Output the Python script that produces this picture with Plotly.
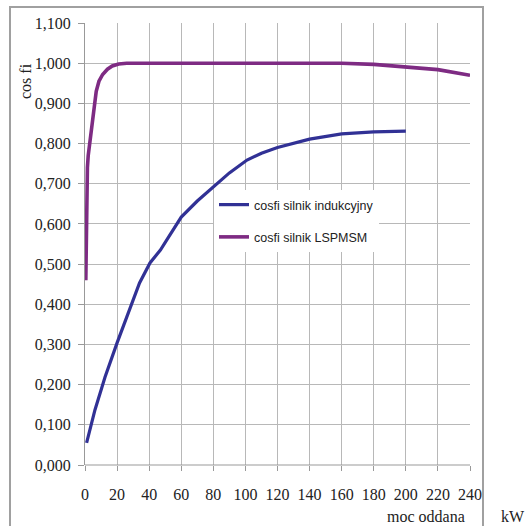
import plotly.graph_objects as go

# Data
ind_x = [1, 4.4, 6.2, 10.6, 12.5, 20, 29, 34, 40.5, 47, 51, 60, 70, 80, 90, 101, 110, 120, 126, 140, 160, 180, 200]
ind_y = [0.055, 0.107, 0.137, 0.194, 0.219, 0.304, 0.403, 0.453, 0.503, 0.535, 0.56, 0.617, 0.657, 0.692,
         0.727, 0.759, 0.776, 0.79, 0.796, 0.811, 0.824, 0.829, 0.831]

pm_x = [0.5, 1, 1.5, 2, 3, 4.5, 6, 7, 8.7, 11, 14, 17, 21, 26, 60, 100, 160, 180, 200, 220, 240]
pm_y = [0.46, 0.68, 0.74, 0.77, 0.80, 0.86, 0.905, 0.93, 0.955, 0.972, 0.985, 0.993, 0.998, 1.0,
        1.0, 1.0, 1.0, 0.997, 0.99, 0.984, 0.97]

series_names = ["cosfi silnik indukcyjny", "cosfi silnik LSPMSM"]
x_ticks = list(range(0, 241, 20))
y_ticks = [i / 10 for i in range(0, 12)]

serif = "Liberation Serif, Times New Roman, serif"
sans = "Liberation Sans, Arial, sans-serif"

fig = go.Figure()
fig.add_trace(go.Scatter(x=ind_x, y=ind_y, mode="lines", name=series_names[0],
                         legendgroup="a", line=dict(color="#313195", width=3.2)))
fig.add_trace(go.Scatter(x=pm_x, y=pm_y, mode="lines", name=series_names[1],
                         legendgroup="b", line=dict(color="#7E2B83", width=3.6)))

L, T = 85, 23
PW, PH = 385, 442

def px(x):
    return (x - L) / PW

def py(y):
    return (T + PH - y) / PH

fig.update_layout(
    width=530, height=526,
    margin=dict(l=L, r=530 - L - PW, t=T, b=526 - T - PH),
    paper_bgcolor="white", plot_bgcolor="white",
    separators=", ",
    showlegend=True,
    legend=dict(x=px(214), y=py(190), xanchor="left", yanchor="top",
                bgcolor="white", borderwidth=0,
                font=dict(family=sans, size=12.5, color="#222"),
                tracegroupgap=13, traceorder="grouped"),
    xaxis=dict(range=[0, 240], tickvals=x_ticks, ticks="outside", ticklen=5,
               tickcolor="#999", showgrid=True, gridcolor="#B8B8B8", gridwidth=1,
               showline=False, zeroline=False, ticklabelstandoff=10,
               tickfont=dict(family=serif, size=16, color="#222"), mirror=False),
    yaxis=dict(range=[0, 1.1], tickvals=y_ticks, tickformat=".3f", ticks="outside", ticklen=6,
               tickcolor="#999", showgrid=True, gridcolor="#B8B8B8", gridwidth=1,
               showline=True, linecolor="#999", zeroline=False, ticklabelstandoff=4,
               tickfont=dict(family=serif, size=16, color="#222")),
)

# x axis baseline
fig.add_shape(type="line", xref="paper", yref="paper", x0=0, x1=1, y0=0, y1=0,
              line=dict(color="#999", width=1))
# outer chart border
fig.add_shape(type="rect", xref="paper", yref="paper",
              x0=px(10), x1=px(483), y0=py(540), y1=py(7),
              line=dict(color="#A0A0A0", width=2), fillcolor="rgba(0,0,0,0)", layer="below")

fig.add_annotation(text="cos fi", xref="paper", yref="paper", x=px(25), y=py(81),
                   xanchor="center", yanchor="middle",
                   textangle=-90, showarrow=False, font=dict(family=serif, size=16, color="#222"))
fig.add_annotation(text="moc oddana", xref="paper", yref="paper", x=px(426), y=py(516),
                   xanchor="center", yanchor="middle",
                   showarrow=False, font=dict(family=serif, size=16, color="#222"))
fig.add_annotation(text="kW", xref="paper", yref="paper", x=px(513), y=py(516),
                   xanchor="center", yanchor="middle",
                   showarrow=False, font=dict(family=serif, size=16, color="#222"))

fig.write_html("out.html", config={"displayModeBar": False},
               post_script="document.body.style.margin='0';")
